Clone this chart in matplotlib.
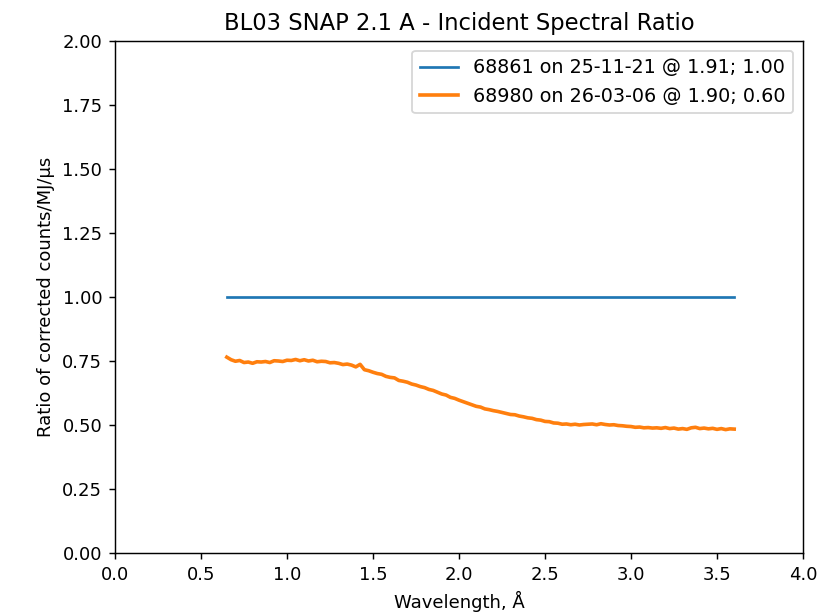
import numpy as np
import matplotlib.pyplot as plt

# incident spectral ratio of run 68980, every 0.025 Å
run_ratio = [
    0.765, 0.755, 0.749, 0.752, 0.744, 0.746, 0.741, 0.747, 0.746, 0.748,
    0.744, 0.751, 0.750, 0.748, 0.753, 0.752, 0.756, 0.751, 0.755, 0.750,
    0.753, 0.747, 0.749, 0.748, 0.743, 0.744, 0.741, 0.736, 0.738, 0.734,
    0.727, 0.737, 0.716, 0.712, 0.706, 0.701, 0.698, 0.690, 0.686, 0.684,
    0.674, 0.671, 0.667, 0.660, 0.656, 0.650, 0.646, 0.639, 0.635, 0.628,
    0.621, 0.617, 0.608, 0.604, 0.597, 0.591, 0.585, 0.579, 0.573, 0.570,
    0.563, 0.560, 0.556, 0.553, 0.549, 0.545, 0.541, 0.540, 0.535, 0.532,
    0.528, 0.526, 0.521, 0.519, 0.514, 0.513, 0.508, 0.507, 0.503, 0.504,
    0.501, 0.503, 0.500, 0.502, 0.503, 0.504, 0.501, 0.505, 0.502, 0.500,
    0.501, 0.498, 0.497, 0.495, 0.494, 0.491, 0.492, 0.489, 0.490, 0.488,
    0.489, 0.487, 0.490, 0.486, 0.488, 0.484, 0.486, 0.483, 0.489, 0.491,
    0.486, 0.488, 0.485, 0.487, 0.483, 0.486, 0.482, 0.485, 0.484,
]
wavelength = np.linspace(0.65, 3.6, len(run_ratio))

# reference run 68861 divided by itself
ref_ratio = [1.0] * len(run_ratio)

labels = [
    '68861 on 25-11-21 @ 1.91; 1.00',
    '68980 on 26-03-06 @ 1.90; 0.60',
]

fig = plt.figure(figsize=(835/130, 613/130), dpi=130)
ax = fig.add_axes([115/835, 60/613, 688/835, 512/613])

ax.plot(wavelength, ref_ratio, label=labels[0])
ax.plot(wavelength, run_ratio, label=labels[1], linewidth=2)

ax.set_xlim(0, 4)
ax.set_ylim(0, 2)
ax.set_xlabel('Wavelength, Å')
ax.set_ylabel('Ratio of corrected counts/MJ/µs')
ax.set_title('BL03 SNAP 2.1 A - Incident Spectral Ratio', fontsize=12.5)
ax.legend(loc='upper right', fontsize=10.6)

plt.savefig('out.png', dpi=130)
plt.close()
